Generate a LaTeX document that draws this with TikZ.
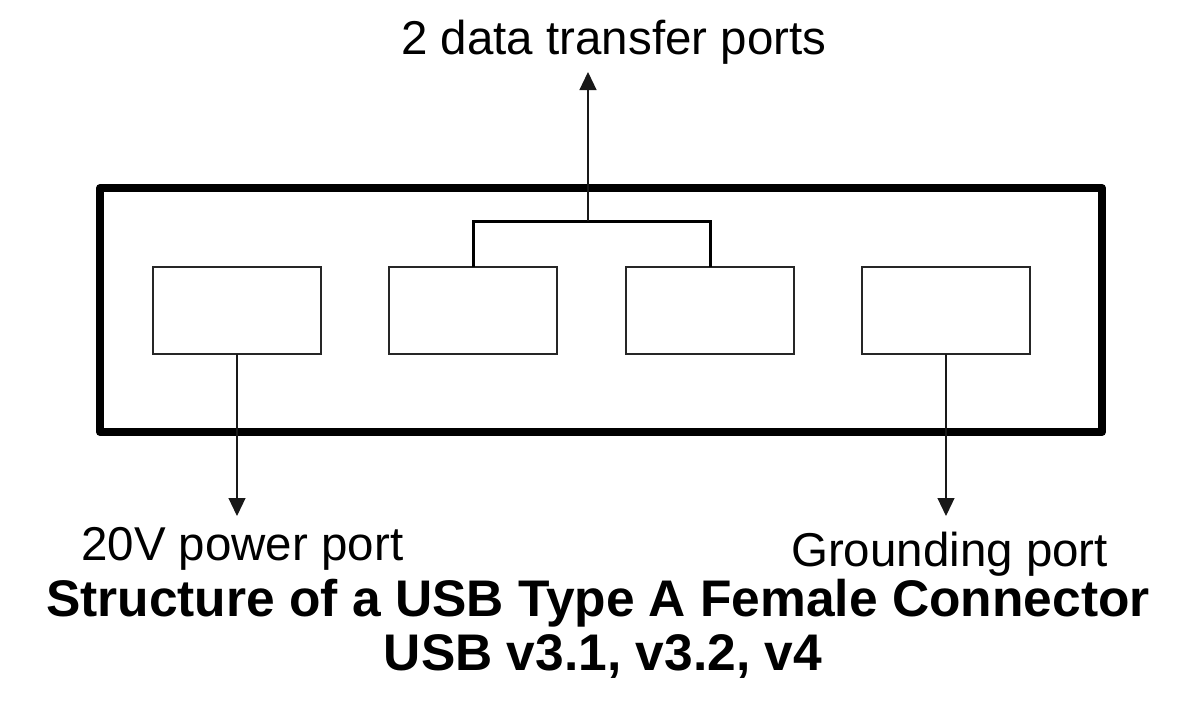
\documentclass[tikz,border=0pt]{standalone}
\usepackage{fontspec}
\setmainfont{Liberation Sans}
\usetikzlibrary{arrows.meta}
\begin{document}
\begin{tikzpicture}[x=1pt,y=-1pt,
  port/.style={draw=black!85,line width=1.1pt,minimum width=168pt,minimum height=87pt,inner sep=0pt,outer sep=0pt},
  outerbox/.style={draw=black,line width=8pt,line join=round,minimum width=1002pt,minimum height=244pt,inner sep=0pt,outer sep=0pt},
  link/.style={draw=black!90,line width=1.2pt,-{Triangle[width=17pt,length=18pt]}},
  bracket/.style={draw=black,line width=3pt},
  lbl/.style={font=\fontsize{47.5}{57}\selectfont,inner sep=0pt,anchor=base west},
  ttl/.style={font=\fontsize{51.5}{61}\bfseries\selectfont,inner sep=0pt,anchor=base west}]
\useasboundingbox (0,0) rectangle (1194,717);
\fill[white] (0,0) rectangle (1194,717);
\node[outerbox] (box) at (601,310) {};
\node[port] (p1) at (237,310.5) {};
\node[port] (p2) at (473,310.5) {};
\node[port] (p3) at (710,310.5) {};
\node[port] (p4) at (946,310.5) {};
\coordinate (j) at (588,221);
\coordinate (tupTip) at (588,72);
\coordinate (tp1) at (237,516);
\coordinate (tp4) at (946,516);
\draw[bracket] (p2.north) -- (p2.north |- j) -- (p3.north |- j) -- (p3.north);
\draw[link] (j) -- (tupTip);
\draw[link] (p1.south) -- (tp1);
\draw[link] (p4.south) -- (tp4);
\node[lbl] (ldata) at (401,55) {2 data transfer ports};
\node[lbl] (lpow) at (81,560) {20V power port};
\node[lbl] (lgnd) at (791,566) {Grounding port};
\node[ttl] (title) at (46,616) {Structure of a USB Type A Female Connector};
\node[ttl,anchor=base] (sub) at (603,670) {USB v3.1, v3.2, v4};
\end{tikzpicture}
\end{document}
